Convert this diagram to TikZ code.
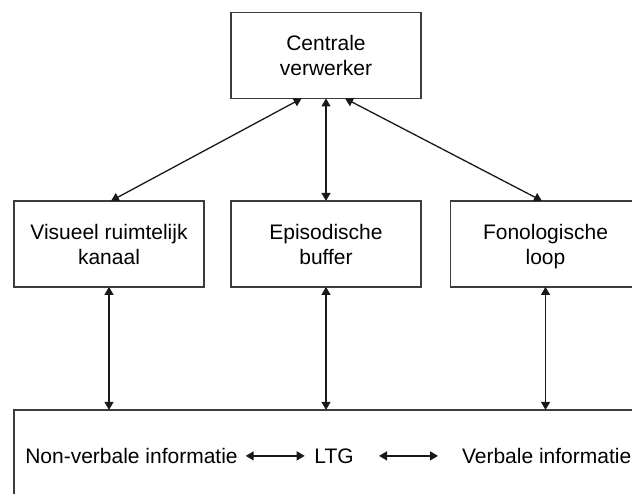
\documentclass[tikz,border=0pt]{standalone}
\usepackage{fontspec}
\setmainfont{Liberation Sans}
\usepackage{xcolor}
\definecolor{boxframe}{RGB}{60,60,60}
\definecolor{arrline}{RGB}{25,25,25}
\usepackage{tikz}
\usetikzlibrary{arrows.meta,positioning,calc}
\tikzset{
  wm_box/.style={rectangle,
    draw=boxframe,fill=white,line width=1.5pt,
    minimum width=190pt,minimum height=86pt,
    align=center,inner sep=0pt,outer sep=0pt,text depth=0pt,
    font=\fontsize{21}{25}\selectfont},
  wm_base/.style={rectangle,
    draw=boxframe,fill=white,line width=1.5pt,
    minimum width=660pt,minimum height=120pt,
    inner sep=0pt,outer sep=0pt},
  wm_txt/.style={inner sep=0pt,outer sep=0pt,
    font=\fontsize{21}{25}\selectfont},
  arr/.style={{Triangle[length=8pt,width=9pt]}-{Triangle[length=8pt,width=9pt]},
    line width=1.3pt,draw=arrline},
}

\begin{document}
\begin{tikzpicture}
  \useasboundingbox (0,0) rectangle (632pt,-494pt);

  % --- Top: central executive ---
  \node (cv) [wm_box] at (326pt,-55.4pt) {Centrale\\verwerker};

  % --- Middle row ---
  \node (eb) [wm_box, below=102.5pt of cv] {Episodische\\buffer};
  \node (vr) [wm_box, left=27pt of eb]     {Visueel ruimtelijk\\kanaal};
  \node (fl) [wm_box, right=29.5pt of eb]  {Fonologische\\loop};

  % --- Long-term memory (runs off the page) ---
  \node (ltg) [wm_base, below right=123pt and 0pt of vr.south west] {};
  \node (nvi)  [wm_txt, anchor=west] at ($(ltg.north west)+(11.3pt,-46pt)$)
    {Non-verbale informatie};
  \node (ltgt) [wm_txt, right=76.7pt of nvi]   {LTG};
  \node (vbi)  [wm_txt, right=108.3pt of ltgt] {Verbale informatie};

  % --- Arrows ---
  \draw[arr] ($(cv.south)+(-24.3pt,0)$) -- ($(vr.north)+(2pt,0)$);
  \draw[arr] (cv.south) -- (eb.north);
  \draw[arr] ($(cv.south)+(19pt,0)$) -- ($(fl.north)+(-3.5pt,0)$);
  \draw[arr] (vr.south) -- (vr.south |- ltg.north);
  \draw[arr] (eb.south) -- (eb.south |- ltg.north);
  \draw[arr] (fl.south) -- (fl.south |- ltg.north);
  % inside LTG
  \draw[arr, shorten <=8pt, shorten >=9.7pt] (nvi) -- (ltgt);
  \draw[arr, shorten <=25.3pt, shorten >=24pt] (ltgt) -- (vbi);
\end{tikzpicture}
\end{document}
